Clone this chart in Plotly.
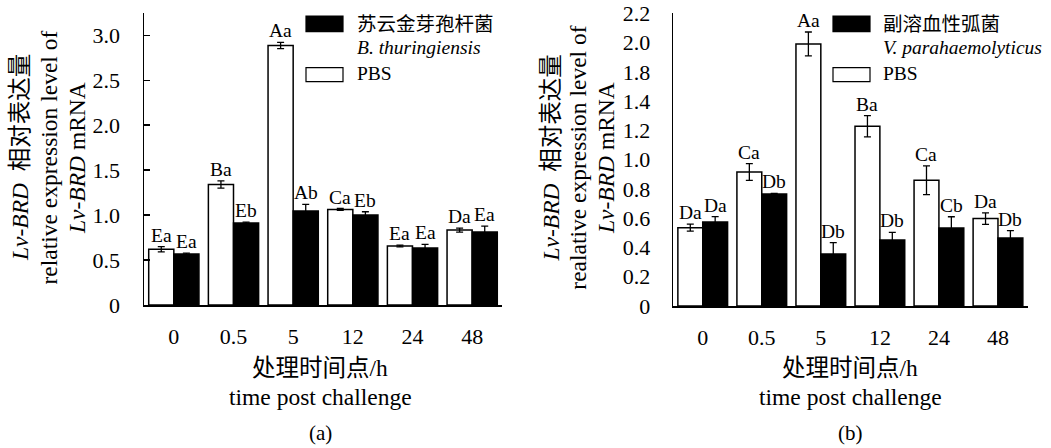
import plotly.graph_objects as go

W, H = 1051, 448

cats = ["0", "0.5", "5", "12", "24", "48"]

# Panel (a): B. thuringiensis vs PBS
a_pbs = [0.620, 1.340, 2.885, 1.063, 0.656, 0.833]
a_pbs_err = [0.030, 0.040, 0.035, 0.010, 0.010, 0.022]
a_bt = [0.567, 0.911, 1.044, 1.000, 0.633, 0.811]
a_bt_err = [0.010, 0.010, 0.074, 0.037, 0.041, 0.067]
a_pbs_sig = ["Ea", "Ba", "Aa", "Ca", "Ea", "Da"]
a_bt_sig = ["Ea", "Eb", "Ab", "Eb", "Ea", "Ea"]

# Panel (b): V. parahaemolyticus vs PBS
b_pbs = [0.589, 1.008, 1.970, 1.351, 0.945, 0.657]
b_pbs_err = [0.026, 0.063, 0.090, 0.080, 0.108, 0.043]
b_vp = [0.632, 0.842, 0.391, 0.496, 0.586, 0.511]
b_vp_err = [0.040, 0.005, 0.085, 0.058, 0.085, 0.055]
b_pbs_sig = ["Da", "Ca", "Aa", "Ba", "Ca", "Da"]
b_vp_sig = ["Da", "Db", "Db", "Db", "Cb", "Db"]

a_yticks = [0, 0.5, 1.0, 1.5, 2.0, 2.5, 3.0]
a_yticktext = ["0", "0.5", "1.0", "1.5", "2.0", "2.5", "3.0"]
b_yticktext = ["0", "0.2", "0.4", "0.6", "0.8", "1.0", "1.2", "1.4", "1.8", "2.0", "2.2"]

SERIF = "Liberation Serif, Noto Sans CJK SC"
BARGAP = 0.158
F_TICK = 22
F_SIG = 19.5
F_LEG = 19.5
F_TITLE = 23.5

def px_x(x):
    return x / W

def px_y(y):
    return 1 - y / H

fig = go.Figure()

def add_bars(xa, ya, pbs, pbs_err, trt, trt_err):
    fig.add_trace(go.Bar(x=cats, y=pbs, xaxis=xa, yaxis=ya, name="PBS",
                         marker=dict(color="white", line=dict(color="black", width=1.5)),
                         error_y=dict(type="data", array=pbs_err, color="black", thickness=1.3, width=3.5),
                         showlegend=False))
    fig.add_trace(go.Bar(x=cats, y=trt, xaxis=xa, yaxis=ya, name="trt",
                         marker=dict(color="black", line=dict(color="black", width=1.5)),
                         error_y=dict(type="data", array=trt_err, color="black", thickness=1.3, width=3.5),
                         showlegend=False))

add_bars("x", "y", a_pbs, a_pbs_err, a_bt, a_bt_err)
add_bars("x2", "y2", b_pbs, b_pbs_err, b_vp, b_vp_err)

annotations = []
off = (1 - BARGAP) / 4

def add_sig(xref, yref, vals, errs, sigs, shift):
    for i, (v, e, s) in enumerate(zip(vals, errs, sigs)):
        annotations.append(dict(x=i + shift, y=v + e, xref=xref, yref=yref, text=s,
                                showarrow=False, xanchor="center", yanchor="bottom",
                                yshift=-1, font=dict(family=SERIF, size=F_SIG, color="black")))

add_sig("x", "y", a_pbs, a_pbs_err, a_pbs_sig, -off)
add_sig("x", "y", a_bt, a_bt_err, a_bt_sig, off)
add_sig("x2", "y2", b_pbs, b_pbs_err, b_pbs_sig, -off)
add_sig("x2", "y2", b_vp, b_vp_err, b_vp_sig, off)

# y-axis titles, one annotation per line
ytitle_a = ["<i>Lv-BRD</i>  相对表达量", "relative expression level of", "<i>Lv-BRD</i> mRNA"]
ytitle_b = ["<i>Lv-BRD</i>  相对表达量", "realative expression level of", "<i>Lv-BRD</i> mRNA"]
for xs, lines in [((20, 48.5, 77), ytitle_a), ((550.5, 577.7, 606), ytitle_b)]:
    for xc, t in zip(xs, lines):
        annotations.append(dict(x=px_x(xc), y=px_y(158), xref="paper", yref="paper", text=t,
                                textangle=-90, showarrow=False, xanchor="center", yanchor="middle",
                                font=dict(family=SERIF, size=F_TITLE, color="black")))

for xc, lab in [(320, "(a)"), (850, "(b)")]:
    annotations.append(dict(x=px_x(xc), y=px_y(368), xref="paper", yref="paper", text="处理时间点/h",
                            showarrow=False, xanchor="center", yanchor="middle",
                            font=dict(family=SERIF, size=F_TITLE, color="black")))
    annotations.append(dict(x=px_x(xc), y=px_y(397), xref="paper", yref="paper", text="time post challenge",
                            showarrow=False, xanchor="center", yanchor="middle",
                            font=dict(family=SERIF, size=F_TITLE, color="black")))
    annotations.append(dict(x=px_x(xc), y=px_y(433), xref="paper", yref="paper", text=lab,
                            showarrow=False, xanchor="center", yanchor="middle",
                            font=dict(family=SERIF, size=21, color="black")))

# legends (drawn manually)
shapes = []
for bx, tx, l1, l2 in [(306, 355, "苏云金芽孢杆菌", "B. thuringiensis"),
                       (833, 880.7, "副溶血性弧菌", "V. parahaemolyticus")]:
    shapes.append(dict(type="rect", xref="paper", yref="paper",
                       x0=px_x(bx), x1=px_x(bx + 37), y0=px_y(31.7), y1=px_y(16),
                       fillcolor="black", line=dict(color="black", width=1.2)))
    shapes.append(dict(type="rect", xref="paper", yref="paper",
                       x0=px_x(bx), x1=px_x(bx + 37), y0=px_y(81.7), y1=px_y(67.7),
                       fillcolor="white", line=dict(color="black", width=1.2)))
    annotations.append(dict(x=px_x(tx), y=px_y(24), xref="paper", yref="paper", text=l1,
                            showarrow=False, xanchor="left", yanchor="middle",
                            font=dict(family=SERIF, size=19.5, color="black")))
    annotations.append(dict(x=px_x(tx), y=px_y(47.7), xref="paper", yref="paper", text="<i>" + l2 + "</i>",
                            showarrow=False, xanchor="left", yanchor="middle",
                            font=dict(family=SERIF, size=F_LEG, color="black")))
    annotations.append(dict(x=px_x(tx), y=px_y(74), xref="paper", yref="paper", text="PBS",
                            showarrow=False, xanchor="left", yanchor="middle",
                            font=dict(family=SERIF, size=F_LEG, color="black")))

xax = dict(type="category", showline=True, linecolor="black", linewidth=1.5, ticks="",
           showgrid=False, zeroline=False, range=[-0.5, 5.5], automargin=False,
           tickfont=dict(family=SERIF, size=F_TICK, color="black"), ticklabelstandoff=11)

b_range = [0, 2.205]
b_labvals = [b_range[0] + k * 2.2 / 10 for k in range(len(b_yticktext))]

fig.update_layout(
    template="none",
    width=W, height=H, margin=dict(l=0, r=0, t=0, b=0, autoexpand=False),
    paper_bgcolor="white", plot_bgcolor="white",
    barmode="group", bargap=BARGAP, bargroupgap=0,
    xaxis=dict(xax, domain=[px_x(144), px_x(502)], anchor="y"),
    xaxis2=dict(xax, domain=[px_x(673.2), px_x(1027.5)], anchor="y2"),
    yaxis=dict(domain=[px_y(305), px_y(12.7)], anchor="x", range=[0, 3.25], automargin=False,
               showline=True, linecolor="black", linewidth=1.5, showgrid=False, zeroline=False,
               tickmode="array", tickvals=a_yticks, ticktext=a_yticktext,
               ticks="inside", ticklen=6, tickwidth=1.3, tickcolor="black",
               tickfont=dict(family=SERIF, size=F_TICK, color="black"), ticklabelstandoff=18),
    yaxis2=dict(domain=[px_y(306), px_y(12.7)], anchor="x2", range=b_range, automargin=False,
                showline=True, linecolor="black", linewidth=1.5, showgrid=False, zeroline=False,
                tickmode="array", tickvals=b_labvals, ticktext=b_yticktext, ticks="",
                tickfont=dict(family=SERIF, size=F_TICK, color="black"), ticklabelstandoff=17),
    yaxis3=dict(overlaying="y2", anchor="x2", range=b_range, showline=False, showgrid=False,
                zeroline=False, tickmode="linear", tick0=0, dtick=0.2, ticks="inside", automargin=False,
                ticklen=6, tickwidth=1.3, tickcolor="black", showticklabels=False),
    annotations=annotations, shapes=shapes, showlegend=False,
)

fig.write_html("out.html", config={"displayModeBar": False, "staticPlot": True},
               post_script="document.body.style.margin='0px';document.body.style.overflow='hidden';")
